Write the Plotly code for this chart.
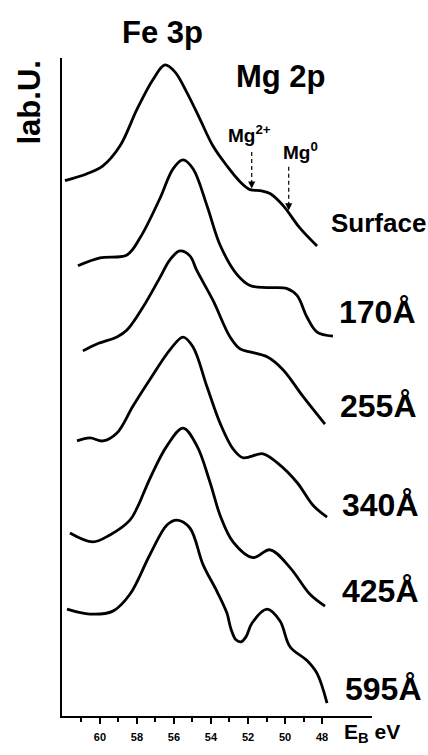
import plotly.graph_objects as go

# ---------------- data (binding energy in eV, intensity in arb. units) -------------
surface_E = [61.89, 60.70, 59.84, 58.92, 58.00, 57.14, 56.49, 55.95, 55.30, 54.59,
             53.89, 53.14, 52.43, 51.89, 51.35, 50.81, 50.11, 49.19, 48.27]
surface_I = [541, 548, 556, 576, 613, 643, 658, 651, 630, 603,
             576, 556, 540, 532, 531, 528, 516, 493, 475]

d170_E = [61.19, 60.00, 58.54, 57.84, 56.76, 56.05, 55.51, 54.97, 54.22, 53.51,
          52.59, 51.89, 50.97, 49.89, 49.35, 48.81, 48.27, 47.41]
d170_I = [455, 463, 466, 483, 523, 553, 562, 553, 516, 476,
          446, 435, 433, 432, 425, 403, 388, 384]

d255_E = [60.92, 60.16, 59.08, 58.54, 57.68, 56.76, 56.22, 55.68, 55.14, 54.76,
          53.89, 52.97, 52.43, 51.89, 50.97, 50.11, 49.03, 47.84]
d255_I = [369, 376, 383, 390, 413, 443, 461, 470, 465, 450,
          420, 383, 371, 368, 363, 350, 323, 295]

d340_E = [61.24, 60.54, 59.84, 59.08, 58.22, 57.30, 56.22, 55.51, 54.97, 54.22,
          53.51, 52.81, 52.27, 51.19, 50.43, 49.35, 48.49, 47.73]
d340_I = [278, 281, 278, 286, 313, 340, 370, 383, 373, 333,
          296, 270, 261, 265, 256, 236, 213, 201]

d425_E = [61.62, 60.38, 59.46, 58.38, 58.00, 57.30, 56.38, 55.51, 54.76, 54.05,
          53.51, 52.81, 51.73, 50.81, 49.73, 48.65, 47.84]
d425_I = [185, 176, 183, 198, 210, 240, 273, 291, 273, 236,
          203, 176, 160, 168, 150, 123, 111]

d595_E = [61.78, 60.54, 59.30, 58.38, 57.30, 56.38, 55.84, 55.14, 54.43, 53.68,
          53.14, 52.92, 52.65, 52.38, 52.11, 51.78, 50.97, 50.27, 49.73, 48.81,
          48.27, 47.73]
d595_I = [108, 103, 106, 123, 163, 193, 198, 190, 153, 126,
          104, 88, 77, 75, 80, 94, 108, 96, 70, 56,
          43, 13]

spectra_labels = ["Surface", "170Å", "255Å", "340Å", "425Å", "595Å"]

# Mg 2p component markers on the surface spectrum
mg_labels = ["Mg<sup>2+</sup>", "Mg<sup>0</sup>"]
mg_energies = [51.8, 49.8]
mg_arrow_top = [570, 555]
mg_arrow_tip = [533, 511]

x_tick_vals = [60, 58, 56, 54, 52, 50, 48]
x_minor_vals = [61, 59, 57, 55, 53, 51, 49]

# ---------------- figure -------------
series = [(surface_E, surface_I), (d170_E, d170_I), (d255_E, d255_I),
          (d340_E, d340_I), (d425_E, d425_I), (d595_E, d595_I)]

FONT = "Liberation Sans, Arial, DejaVu Sans"

fig = go.Figure()
for (E, I), name in zip(series, spectra_labels):
    fig.add_trace(go.Scatter(x=E, y=I, mode="lines", name=name,
                             line=dict(color="black", width=2.8, shape="spline", smoothing=1.0),
                             showlegend=False, hoverinfo="skip"))

mg_text_shift = [-26, -8]
mg_text_lift = [4, 2]
for lab, e, top, tip, dx, lift in zip(mg_labels, mg_energies, mg_arrow_top, mg_arrow_tip,
                                      mg_text_shift, mg_text_lift):
    fig.add_trace(go.Scatter(x=[e, e], y=[top, tip + 4], mode="lines",
                             line=dict(color="black", width=1.2, dash="4px,3px"),
                             showlegend=False, hoverinfo="skip"))
    fig.add_annotation(x=e, y=tip, xref="x", yref="y", text="", showarrow=True,
                       ax=0, ay=-7, arrowhead=2, arrowsize=1.2, arrowwidth=1.2,
                       arrowcolor="black", standoff=0)
    fig.add_annotation(x=e, y=top + lift, xref="x", yref="y", text=lab, showarrow=False,
                       xanchor="left", yanchor="bottom", xshift=dx,
                       font=dict(family=FONT, size=19, color="black", weight="bold"))

L, R, T, B = 62, 56, 58, 32
W, H = 428, 755
pw, ph = W - L - R, H - T - B


def px(xp):
    return (xp - L) / pw


def py(yp):
    return (H - B - yp) / ph


label_x = [329, 337, 338, 340, 340, 343]
label_y = [225, 315, 410, 510, 597, 696]
label_size = [26, 32, 32, 32, 32, 32]
for txt, lx, ly, sz in zip(spectra_labels, label_x, label_y, label_size):
    fig.add_annotation(x=px(lx), y=py(ly), xref="paper", yref="paper", text=txt,
                       showarrow=False, xanchor="left", yanchor="middle",
                       font=dict(family=FONT, size=sz, color="black", weight="bold"))

fig.add_annotation(x=px(162), y=py(32), xref="paper", yref="paper", text="Fe 3p",
                   showarrow=False, xanchor="center", yanchor="middle",
                   font=dict(family=FONT, size=31, color="black", weight="bold"))
fig.add_annotation(x=px(281), y=py(77), xref="paper", yref="paper", text="Mg 2p",
                   showarrow=False, xanchor="center", yanchor="middle",
                   font=dict(family=FONT, size=31, color="black", weight="bold"))
fig.add_annotation(x=px(30), y=py(103), xref="paper", yref="paper", text="lab.U.",
                   showarrow=False, xanchor="center", yanchor="middle", textangle=-90,
                   font=dict(family=FONT, size=31, color="black", weight="bold"))
fig.add_annotation(x=px(342), y=py(740), xref="paper", yref="paper",
                   text="E<sub>B</sub> eV", showarrow=False, xanchor="left", yanchor="middle",
                   font=dict(family=FONT, size=21, color="black", weight="bold"))

fig.update_layout(
    width=W, height=H,
    margin=dict(l=L, r=R, t=T, b=B, pad=0),
    paper_bgcolor="white", plot_bgcolor="white",
    xaxis=dict(range=[62.05, 45.3], showgrid=False, zeroline=False,
               showline=True, linecolor="black", linewidth=2,
               ticks="outside", tickvals=x_tick_vals, ticklen=6, tickwidth=2,
               tickcolor="black", ticklabelstandoff=4,
               tickfont=dict(family=FONT, size=11, color="black", weight="bold"),
               minor=dict(tickvals=x_minor_vals, ticks="outside", ticklen=4,
                          tickwidth=2, tickcolor="black", showgrid=False)),
    yaxis=dict(range=[0, 665], showgrid=False, zeroline=False, showline=True,
               linecolor="black", linewidth=2, showticklabels=False, ticks=""),
)

fig.write_html("out.html")
